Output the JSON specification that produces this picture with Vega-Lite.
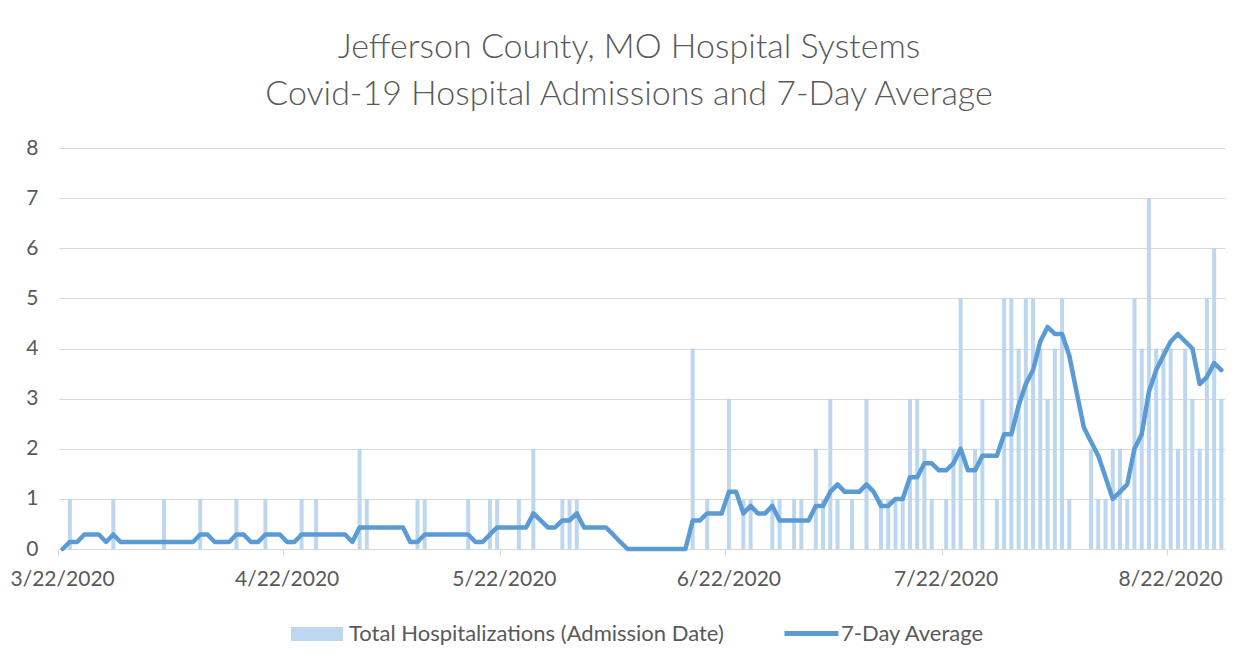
{
  "$schema": "https://vega.github.io/schema/vega-lite/v6.json",
  "width": 1166,
  "height": 401,
  "autosize": {"type": "none"},
  "padding": {"left": 59, "top": 148, "right": 28, "bottom": 119},
  "background": "white",
  "title": {
    "text": ["Jefferson County, MO Hospital Systems", "Covid-19 Hospital Admissions and 7-Day Average"],
    "anchor": "middle",
    "frame": "group",
    "dx": -13,
    "offset": 25,
    "font": "Lato",
    "fontSize": 34,
    "fontWeight": 300,
    "color": "#595959",
    "lineHeight": 47
  },
  "data": {
    "values": [
      {"date": "3/22/2020", "admissions": 0, "avg": 0},
      {"date": "3/23/2020", "admissions": 1, "avg": 0.14},
      {"date": "3/24/2020", "admissions": 0, "avg": 0.14},
      {"date": "3/25/2020", "admissions": 0, "avg": 0.29},
      {"date": "3/26/2020", "admissions": 0, "avg": 0.29},
      {"date": "3/27/2020", "admissions": 0, "avg": 0.29},
      {"date": "3/28/2020", "admissions": 0, "avg": 0.14},
      {"date": "3/29/2020", "admissions": 1, "avg": 0.29},
      {"date": "3/30/2020", "admissions": 0, "avg": 0.14},
      {"date": "3/31/2020", "admissions": 0, "avg": 0.14},
      {"date": "4/1/2020", "admissions": 0, "avg": 0.14},
      {"date": "4/2/2020", "admissions": 0, "avg": 0.14},
      {"date": "4/3/2020", "admissions": 0, "avg": 0.14},
      {"date": "4/4/2020", "admissions": 0, "avg": 0.14},
      {"date": "4/5/2020", "admissions": 1, "avg": 0.14},
      {"date": "4/6/2020", "admissions": 0, "avg": 0.14},
      {"date": "4/7/2020", "admissions": 0, "avg": 0.14},
      {"date": "4/8/2020", "admissions": 0, "avg": 0.14},
      {"date": "4/9/2020", "admissions": 0, "avg": 0.14},
      {"date": "4/10/2020", "admissions": 1, "avg": 0.29},
      {"date": "4/11/2020", "admissions": 0, "avg": 0.29},
      {"date": "4/12/2020", "admissions": 0, "avg": 0.14},
      {"date": "4/13/2020", "admissions": 0, "avg": 0.14},
      {"date": "4/14/2020", "admissions": 0, "avg": 0.14},
      {"date": "4/15/2020", "admissions": 1, "avg": 0.29},
      {"date": "4/16/2020", "admissions": 0, "avg": 0.29},
      {"date": "4/17/2020", "admissions": 0, "avg": 0.14},
      {"date": "4/18/2020", "admissions": 0, "avg": 0.14},
      {"date": "4/19/2020", "admissions": 1, "avg": 0.29},
      {"date": "4/20/2020", "admissions": 0, "avg": 0.29},
      {"date": "4/21/2020", "admissions": 0, "avg": 0.29},
      {"date": "4/22/2020", "admissions": 0, "avg": 0.14},
      {"date": "4/23/2020", "admissions": 0, "avg": 0.14},
      {"date": "4/24/2020", "admissions": 1, "avg": 0.29},
      {"date": "4/25/2020", "admissions": 0, "avg": 0.29},
      {"date": "4/26/2020", "admissions": 1, "avg": 0.29},
      {"date": "4/27/2020", "admissions": 0, "avg": 0.29},
      {"date": "4/28/2020", "admissions": 0, "avg": 0.29},
      {"date": "4/29/2020", "admissions": 0, "avg": 0.29},
      {"date": "4/30/2020", "admissions": 0, "avg": 0.29},
      {"date": "5/1/2020", "admissions": 0, "avg": 0.14},
      {"date": "5/2/2020", "admissions": 2, "avg": 0.43},
      {"date": "5/3/2020", "admissions": 1, "avg": 0.43},
      {"date": "5/4/2020", "admissions": 0, "avg": 0.43},
      {"date": "5/5/2020", "admissions": 0, "avg": 0.43},
      {"date": "5/6/2020", "admissions": 0, "avg": 0.43},
      {"date": "5/7/2020", "admissions": 0, "avg": 0.43},
      {"date": "5/8/2020", "admissions": 0, "avg": 0.43},
      {"date": "5/9/2020", "admissions": 0, "avg": 0.14},
      {"date": "5/10/2020", "admissions": 1, "avg": 0.14},
      {"date": "5/11/2020", "admissions": 1, "avg": 0.29},
      {"date": "5/12/2020", "admissions": 0, "avg": 0.29},
      {"date": "5/13/2020", "admissions": 0, "avg": 0.29},
      {"date": "5/14/2020", "admissions": 0, "avg": 0.29},
      {"date": "5/15/2020", "admissions": 0, "avg": 0.29},
      {"date": "5/16/2020", "admissions": 0, "avg": 0.29},
      {"date": "5/17/2020", "admissions": 1, "avg": 0.29},
      {"date": "5/18/2020", "admissions": 0, "avg": 0.14},
      {"date": "5/19/2020", "admissions": 0, "avg": 0.14},
      {"date": "5/20/2020", "admissions": 1, "avg": 0.29},
      {"date": "5/21/2020", "admissions": 1, "avg": 0.43},
      {"date": "5/22/2020", "admissions": 0, "avg": 0.43},
      {"date": "5/23/2020", "admissions": 0, "avg": 0.43},
      {"date": "5/24/2020", "admissions": 1, "avg": 0.43},
      {"date": "5/25/2020", "admissions": 0, "avg": 0.43},
      {"date": "5/26/2020", "admissions": 2, "avg": 0.71},
      {"date": "5/27/2020", "admissions": 0, "avg": 0.57},
      {"date": "5/28/2020", "admissions": 0, "avg": 0.43},
      {"date": "5/29/2020", "admissions": 0, "avg": 0.43},
      {"date": "5/30/2020", "admissions": 1, "avg": 0.57},
      {"date": "5/31/2020", "admissions": 1, "avg": 0.57},
      {"date": "6/1/2020", "admissions": 1, "avg": 0.71},
      {"date": "6/2/2020", "admissions": 0, "avg": 0.43},
      {"date": "6/3/2020", "admissions": 0, "avg": 0.43},
      {"date": "6/4/2020", "admissions": 0, "avg": 0.43},
      {"date": "6/5/2020", "admissions": 0, "avg": 0.43},
      {"date": "6/6/2020", "admissions": 0, "avg": 0.29},
      {"date": "6/7/2020", "admissions": 0, "avg": 0.14},
      {"date": "6/8/2020", "admissions": 0, "avg": 0},
      {"date": "6/9/2020", "admissions": 0, "avg": 0},
      {"date": "6/10/2020", "admissions": 0, "avg": 0},
      {"date": "6/11/2020", "admissions": 0, "avg": 0},
      {"date": "6/12/2020", "admissions": 0, "avg": 0},
      {"date": "6/13/2020", "admissions": 0, "avg": 0},
      {"date": "6/14/2020", "admissions": 0, "avg": 0},
      {"date": "6/15/2020", "admissions": 0, "avg": 0},
      {"date": "6/16/2020", "admissions": 0, "avg": 0},
      {"date": "6/17/2020", "admissions": 4, "avg": 0.57},
      {"date": "6/18/2020", "admissions": 0, "avg": 0.57},
      {"date": "6/19/2020", "admissions": 1, "avg": 0.71},
      {"date": "6/20/2020", "admissions": 0, "avg": 0.71},
      {"date": "6/21/2020", "admissions": 0, "avg": 0.71},
      {"date": "6/22/2020", "admissions": 3, "avg": 1.14},
      {"date": "6/23/2020", "admissions": 0, "avg": 1.14},
      {"date": "6/24/2020", "admissions": 1, "avg": 0.71},
      {"date": "6/25/2020", "admissions": 1, "avg": 0.86},
      {"date": "6/26/2020", "admissions": 0, "avg": 0.71},
      {"date": "6/27/2020", "admissions": 0, "avg": 0.71},
      {"date": "6/28/2020", "admissions": 1, "avg": 0.86},
      {"date": "6/29/2020", "admissions": 1, "avg": 0.57},
      {"date": "6/30/2020", "admissions": 0, "avg": 0.57},
      {"date": "7/1/2020", "admissions": 1, "avg": 0.57},
      {"date": "7/2/2020", "admissions": 1, "avg": 0.57},
      {"date": "7/3/2020", "admissions": 0, "avg": 0.57},
      {"date": "7/4/2020", "admissions": 2, "avg": 0.86},
      {"date": "7/5/2020", "admissions": 1, "avg": 0.86},
      {"date": "7/6/2020", "admissions": 3, "avg": 1.14},
      {"date": "7/7/2020", "admissions": 1, "avg": 1.29},
      {"date": "7/8/2020", "admissions": 0, "avg": 1.14},
      {"date": "7/9/2020", "admissions": 1, "avg": 1.14},
      {"date": "7/10/2020", "admissions": 0, "avg": 1.14},
      {"date": "7/11/2020", "admissions": 3, "avg": 1.29},
      {"date": "7/12/2020", "admissions": 0, "avg": 1.14},
      {"date": "7/13/2020", "admissions": 1, "avg": 0.86},
      {"date": "7/14/2020", "admissions": 1, "avg": 0.86},
      {"date": "7/15/2020", "admissions": 1, "avg": 1.0},
      {"date": "7/16/2020", "admissions": 1, "avg": 1.0},
      {"date": "7/17/2020", "admissions": 3, "avg": 1.43},
      {"date": "7/18/2020", "admissions": 3, "avg": 1.43},
      {"date": "7/19/2020", "admissions": 2, "avg": 1.71},
      {"date": "7/20/2020", "admissions": 1, "avg": 1.71},
      {"date": "7/21/2020", "admissions": 0, "avg": 1.57},
      {"date": "7/22/2020", "admissions": 1, "avg": 1.57},
      {"date": "7/23/2020", "admissions": 2, "avg": 1.71},
      {"date": "7/24/2020", "admissions": 5, "avg": 2.0},
      {"date": "7/25/2020", "admissions": 0, "avg": 1.57},
      {"date": "7/26/2020", "admissions": 2, "avg": 1.57},
      {"date": "7/27/2020", "admissions": 3, "avg": 1.86},
      {"date": "7/28/2020", "admissions": 0, "avg": 1.86},
      {"date": "7/29/2020", "admissions": 1, "avg": 1.86},
      {"date": "7/30/2020", "admissions": 5, "avg": 2.29},
      {"date": "7/31/2020", "admissions": 5, "avg": 2.29},
      {"date": "8/1/2020", "admissions": 4, "avg": 2.86},
      {"date": "8/2/2020", "admissions": 5, "avg": 3.29},
      {"date": "8/3/2020", "admissions": 5, "avg": 3.57},
      {"date": "8/4/2020", "admissions": 4, "avg": 4.14},
      {"date": "8/5/2020", "admissions": 3, "avg": 4.43},
      {"date": "8/6/2020", "admissions": 4, "avg": 4.29},
      {"date": "8/7/2020", "admissions": 5, "avg": 4.29},
      {"date": "8/8/2020", "admissions": 1, "avg": 3.86},
      {"date": "8/9/2020", "admissions": 0, "avg": 3.14},
      {"date": "8/10/2020", "admissions": 0, "avg": 2.43},
      {"date": "8/11/2020", "admissions": 2, "avg": 2.14},
      {"date": "8/12/2020", "admissions": 1, "avg": 1.86},
      {"date": "8/13/2020", "admissions": 1, "avg": 1.43},
      {"date": "8/14/2020", "admissions": 2, "avg": 1.0},
      {"date": "8/15/2020", "admissions": 2, "avg": 1.14},
      {"date": "8/16/2020", "admissions": 1, "avg": 1.29},
      {"date": "8/17/2020", "admissions": 5, "avg": 2.0},
      {"date": "8/18/2020", "admissions": 4, "avg": 2.29},
      {"date": "8/19/2020", "admissions": 7, "avg": 3.14},
      {"date": "8/20/2020", "admissions": 4, "avg": 3.57},
      {"date": "8/21/2020", "admissions": 4, "avg": 3.86},
      {"date": "8/22/2020", "admissions": 4, "avg": 4.14},
      {"date": "8/23/2020", "admissions": 2, "avg": 4.29},
      {"date": "8/24/2020", "admissions": 4, "avg": 4.14},
      {"date": "8/25/2020", "admissions": 3, "avg": 4.0},
      {"date": "8/26/2020", "admissions": 2, "avg": 3.29},
      {"date": "8/27/2020", "admissions": 5, "avg": 3.43},
      {"date": "8/28/2020", "admissions": 6, "avg": 3.71},
      {"date": "8/29/2020", "admissions": 3, "avg": 3.57}
    ]
  },
  "encoding": {
    "x": {
      "field": "date",
      "type": "ordinal",
      "sort": null,
      "scale": {"paddingInner": 0.45, "paddingOuter": 0.225},
      "axis": {
        "title": null,
        "values": ["3/22/2020", "4/22/2020", "5/22/2020", "6/22/2020", "7/22/2020", "8/22/2020"],
        "labelAngle": 0,
        "labelAlign": "center",
        "bandPosition": -0.41,
        "domain": true,
        "domainColor": "#D9D9D9",
        "ticks": true,
        "tickColor": "#D9D9D9",
        "tickSize": 6,
        "labelPadding": 13,
        "labelFont": "Lato",
        "labelFontSize": 21,
        "labelColor": "#595959",
        "grid": false
      }
    }
  },
  "layer": [
    {
      "mark": {"type": "bar"},
      "encoding": {
        "y": {
          "field": "admissions",
          "type": "quantitative",
          "scale": {"domain": [0, 8], "nice": false},
          "axis": {
            "title": null,
            "values": [0, 1, 2, 3, 4, 5, 6, 7, 8],
            "grid": true,
            "gridColor": "#D9D9D9",
            "gridWidth": 1,
            "domain": false,
            "ticks": false,
            "labelPadding": 21,
            "labelFont": "Lato",
            "labelFontSize": 21,
            "labelColor": "#595959"
          }
        },
        "fill": {
          "datum": "Total Hospitalizations (Admission Date)",
          "scale": {"range": ["#BDD7EE"]},
          "legend": {
            "orient": "none",
            "legendX": 232,
            "legendY": 460,
            "title": null,
            "padding": 0,
            "symbolType": "M-1,-0.27H1V0.27H-1Z",
            "symbolSize": 2704,
            "symbolStrokeWidth": 0,
            "symbolOpacity": 1,
            "labelFont": "Lato",
            "labelFontSize": 22,
            "labelColor": "#595959",
            "labelOffset": 6,
            "labelLimit": 600
          }
        }
      }
    },
    {
      "mark": {"type": "line", "strokeWidth": 4.5, "strokeJoin": "round", "strokeCap": "round"},
      "encoding": {
        "y": {"field": "avg", "type": "quantitative"},
        "stroke": {
          "datum": "7-Day Average",
          "scale": {"range": ["#5B9BD5"]},
          "legend": {
            "orient": "none",
            "legendX": 723,
            "legendY": 456,
            "title": null,
            "padding": 0,
            "symbolType": "stroke",
            "symbolSize": 2916,
            "symbolStrokeWidth": 5,
            "labelFont": "Lato",
            "labelFontSize": 22,
            "labelColor": "#595959",
            "labelOffset": 0,
            "labelLimit": 600
          }
        }
      }
    }
  ],
  "config": {"view": {"stroke": null}}
}
